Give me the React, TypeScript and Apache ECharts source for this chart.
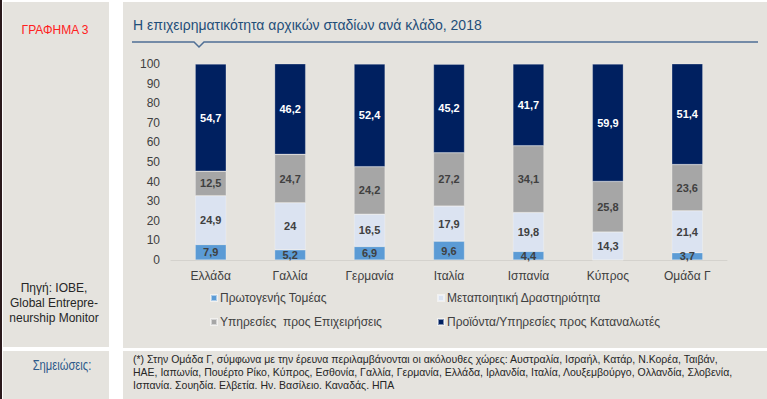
import React, { useEffect, useRef } from "react";
import * as echarts from "echarts";

const categories = ["Ελλάδα", "Γαλλία", "Γερμανία", "Ιταλία", "Ισπανία", "Κύπρος", "Ομάδα Γ"];
const seriesNames = [
  "Πρωτογενής Τομέας",
  "Μεταποιητική Δραστηριότητα",
  "Υπηρεσίες  προς Επιχειρήσεις",
  "Προϊόντα/Υπηρεσίες προς Καταναλωτές",
];
const primary = [7.9, 5.2, 6.9, 9.6, 4.4, 0, 3.7];
const manufacturing = [24.9, 24, 16.5, 17.9, 19.8, 14.3, 21.4];
const business = [12.5, 24.7, 24.2, 27.2, 34.1, 25.8, 23.6];
const consumer = [54.7, 46.2, 52.4, 45.2, 41.7, 59.9, 51.4];
const colors = ["#5b9bd5", "#dbe3f1", "#a6a6a6", "#002060"];
const labelColors = ["#404040", "#404040", "#404040", "#ffffff"];

const title = "Η επιχειρηματικότητα αρχικών σταδίων ανά κλάδο, 2018";
const noteLines = [
  "(*) Στην Ομάδα Γ, σύμφωνα με την έρευνα περιλαμβάνονται οι ακόλουθες χώρες: Αυστραλία, Ισραήλ, Κατάρ, Ν.Κορέα, Ταιβάν,",
  "ΗΑΕ, Ιαπωνία, Πουέρτο Ρίκο, Κύπρος, Εσθονία, Γαλλία, Γερμανία, Ελλάδα, Ιρλανδία, Ιταλία, Λουξεμβούργο, Ολλανδία, Σλοβενία,",
  "Ισπανία. Σουηδία. Ελβετία. Ην. Βασίλειο. Καναδάς. ΗΠΑ",
];
const sourceLines = ["Πηγή: ΙΟΒΕ,", "Global Entrepre-", "neurship Monitor"];

const NARROW = '"Liberation Sans Narrow", "Arial Narrow", "Liberation Sans", Arial, sans-serif';
const SANS = '"Liberation Sans", Arial, sans-serif';
const BG = "#e5e3de";

export default function App() {
  const ref = useRef<HTMLDivElement>(null);
  useEffect(() => {
    const chart = echarts.init(ref.current!, null, { renderer: "svg" });
    const all = [primary, manufacturing, business, consumer];
    const legendPos = [
      { left: 210, top: 292 },
      { left: 437, top: 292 },
      { left: 210, top: 316 },
      { left: 437, top: 316 },
    ];
    chart.setOption({
      animation: false,
      backgroundColor: "#ffffff",
      textStyle: { fontFamily: SANS },
      graphic: [
        { type: "rect", z: -10, shape: { x: 0, y: 0, width: 2, height: 399 }, style: { fill: "#2b1a1c" } },
        { type: "rect", z: -10, shape: { x: 3, y: 2, width: 106, height: 345 }, style: { fill: BG } },
        { type: "rect", z: -10, shape: { x: 123, y: 2, width: 644, height: 346 }, style: { fill: BG } },
        { type: "rect", z: -10, shape: { x: 3, y: 351, width: 106, height: 48 }, style: { fill: BG } },
        { type: "rect", z: -10, shape: { x: 123, y: 351, width: 644, height: 48 }, style: { fill: BG } },
        {
          type: "text",
          x: 55,
          y: 30,
          style: { text: "ΓΡΑΦΗΜΑ 3", fill: "#ff2020", font: `12px ${SANS}`, align: "center", verticalAlign: "middle" },
        },
        {
          type: "text",
          x: 133,
          y: 25,
          style: { text: title, fill: "#1f4e79", font: `14px ${SANS}`, verticalAlign: "middle" },
        },
        {
          type: "polyline",
          shape: { points: [[132, 42], [194, 42], [199, 47], [204, 42], [758, 42]] },
          style: { stroke: "#4f6f95", lineWidth: 1.5, fill: "none" },
        },
        ...sourceLines.map((t, i) => ({
          type: "text",
          x: 54,
          y: 288 + i * 15,
          style: { text: t, fill: "#262626", font: `12px ${NARROW}`, align: "center", verticalAlign: "middle" },
        })),
        {
          type: "text",
          x: 62,
          y: 366,
          scaleX: 0.8,
          originX: 0,
          originY: 0,
          style: { text: "Σημειώσεις:", fill: "#2e5a8a", font: `14px ${NARROW}`, align: "center", verticalAlign: "middle" },
        },
        ...noteLines.map((t, i) => ({
          type: "text",
          x: 133,
          y: 359 + i * 13,
          style: { text: t, fill: "#262626", font: `10.5px ${NARROW}`, verticalAlign: "middle" },
        })),
      ],
      legend: seriesNames.map((n, i) => ({
        data: [n],
        left: legendPos[i].left,
        top: legendPos[i].top,
        itemWidth: 6,
        itemHeight: 6,
        itemGap: 4,
        icon: "rect",
        padding: 0,
        textStyle: { color: "#404040", fontSize: 12, fontFamily: NARROW, padding: [0, 0, 0, -2] },
      })),
      grid: { left: 171, right: 40, top: 64, bottom: 139, containLabel: false },
      xAxis: {
        type: "category",
        data: categories,
        axisLine: { lineStyle: { color: "#d4d2cd", width: 1 } },
        axisTick: { show: false },
        axisLabel: { color: "#404040", fontSize: 12, fontFamily: NARROW, margin: 10 },
      },
      yAxis: {
        type: "value",
        min: 0,
        max: 100,
        interval: 10,
        axisLine: { show: false },
        axisTick: { show: false },
        splitLine: { show: false },
        axisLabel: { color: "#404040", fontSize: 12, margin: 11, fontFamily: SANS },
      },
      series: all.map((d, i) => ({
        name: seriesNames[i],
        type: "bar",
        stack: "total",
        barWidth: 31,
        data: d,
        itemStyle: { color: colors[i], borderColor: "rgba(255,255,255,0.5)", borderWidth: 0.5 },
        label: {
          show: true,
          position: "inside",
          color: labelColors[i],
          fontWeight: "bold",
          fontSize: 11,
          fontFamily: SANS,
          formatter: (p: any) => (p.value ? String(p.value).replace(".", ",") : ""),
        },
      })),
    });
    return () => chart.dispose();
  }, []);
  return <div ref={ref} style={{ position: "fixed", left: 0, top: 0, width: 767, height: 399 }} />;
}
